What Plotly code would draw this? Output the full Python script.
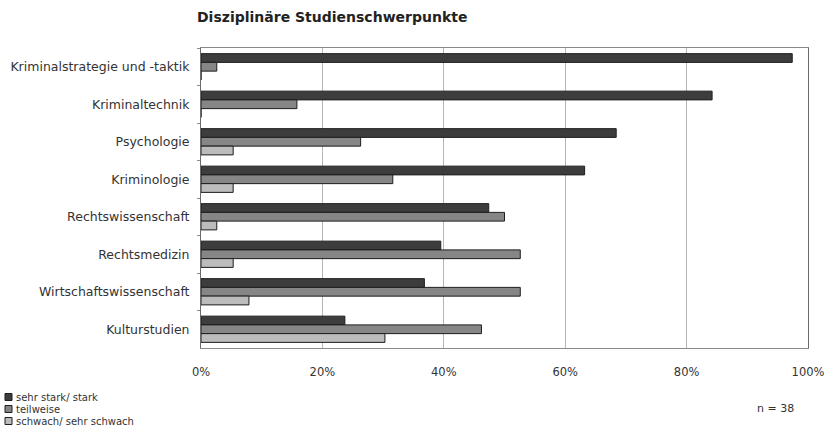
import plotly.graph_objects as go

categories = [
    "Kriminalstrategie und -taktik",
    "Kriminaltechnik",
    "Psychologie",
    "Kriminologie",
    "Rechtswissenschaft",
    "Rechtsmedizin",
    "Wirtschaftswissenschaft",
    "Kulturstudien",
]
series_names = ["sehr stark/ stark", "teilweise", "schwach/ sehr schwach"]
sehr_stark = [0.974, 0.842, 0.684, 0.632, 0.474, 0.395, 0.368, 0.237]
teilweise = [0.026, 0.158, 0.263, 0.316, 0.500, 0.526, 0.526, 0.462]
schwach = [0.0, 0.0, 0.053, 0.053, 0.026, 0.053, 0.079, 0.303]
colors = ["#3d3d3d", "#868686", "#bcbcbc"]

FONT = "DejaVu Sans"
L, R, T, B = 201, 23, 48, 84
PW, PH = 831 - L - R, 432 - T - B

fig = go.Figure()
for name, vals, col in zip(series_names, [sehr_stark, teilweise, schwach], colors):
    fig.add_trace(go.Bar(
        y=categories, x=vals, name=name, orientation="h",
        marker=dict(color=col, line=dict(color="#1e1e1e", width=1)),
        showlegend=False,
    ))

# manual compact legend (bottom-left)
for i, (name, col) in enumerate(zip(series_names, colors)):
    ypix = 397 + i * 12
    fig.add_shape(type="rect", xref="paper", yref="paper",
                  x0=(5 - L) / PW, x1=(12 - L) / PW,
                  y0=(432 - B - ypix - 3.5) / PH, y1=(432 - B - ypix + 3.5) / PH,
                  fillcolor=col, line=dict(color="#1e1e1e", width=1))
    fig.add_annotation(x=(14 - L) / PW, y=(432 - B - ypix) / PH, xref="paper", yref="paper",
                       text=name, showarrow=False, xanchor="left", yanchor="middle",
                       font=dict(family=FONT, size=10, color="#333"))

fig.add_annotation(x=(775 - L) / PW, y=(432 - B - 408) / PH, xref="paper", yref="paper",
                   text="n = 38", showarrow=False, xanchor="center", yanchor="middle",
                   font=dict(family=FONT, size=11, color="#333"))

fig.update_layout(
    width=831, height=432,
    margin=dict(l=L, r=R, t=T, b=B, autoexpand=False),
    paper_bgcolor="white", plot_bgcolor="white",
    barmode="group", bargap=0.3, bargroupgap=0,
    title=dict(text="<b>Disziplinäre Studienschwerpunkte</b>", x=197 / 831, xanchor="left",
               y=1 - 17 / 432, yanchor="middle",
               font=dict(family=FONT, size=14, color="#222")),
    font=dict(family=FONT, size=12, color="#333"),
)
fig.update_xaxes(range=[0, 1], dtick=0.2, tickformat=".0%", showgrid=True,
                 gridcolor="#b5b5b5", gridwidth=1, showline=True, linecolor="#8a8a8a",
                 mirror=True, ticks="", ticklabelstandoff=13, zeroline=False,
                 automargin=False,
                 tickfont=dict(family=FONT, size=11.5, color="#333"))
fig.update_yaxes(autorange="reversed", showline=True, linecolor="#6a6a6a", mirror=True,
                 ticks="outside", tickson="boundaries", ticklen=3, tickcolor="#8a8a8a",
                 ticklabelstandoff=8, automargin=False,
                 tickfont=dict(family=FONT, size=12.5, color="#333"))

fig.write_html("out.html", config={"displayModeBar": False},
               post_script="document.body.style.margin='0';document.body.style.overflow='hidden';")
